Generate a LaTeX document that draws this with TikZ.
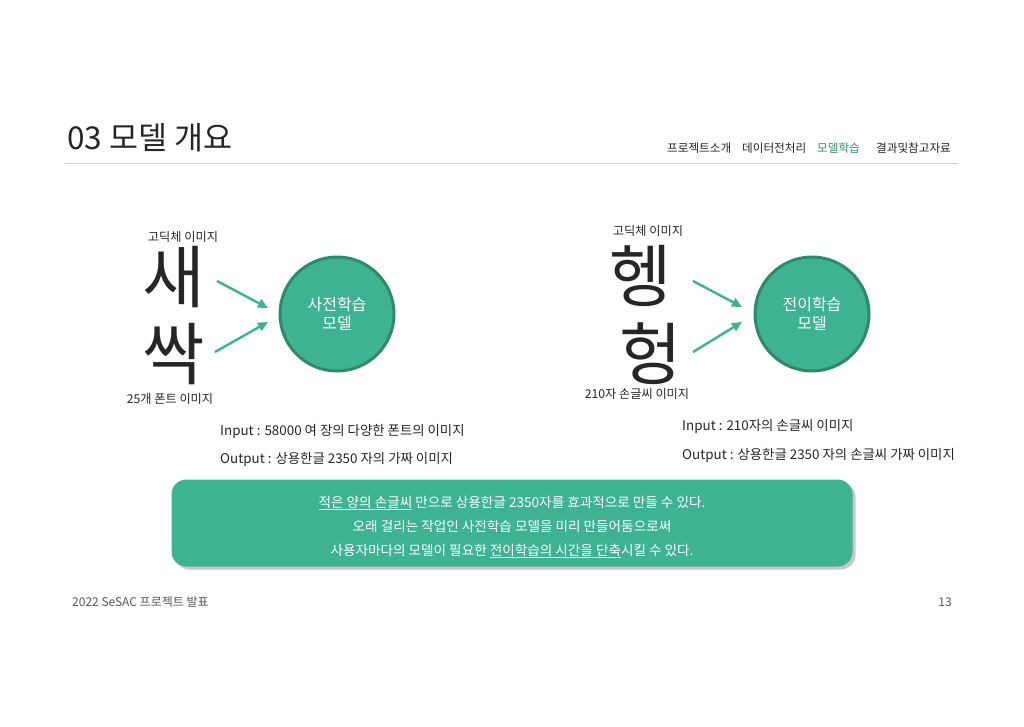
\documentclass[tikz,border=0pt]{standalone}
\usepackage{fontspec}
\setmainfont{Noto Sans CJK KR}
\usetikzlibrary{shadows,arrows.meta}
\definecolor{tealg}{HTML}{3DB391}
\definecolor{tealdk}{HTML}{2E8A68}
\definecolor{navg}{HTML}{2F8F6A}
\definecolor{arrg}{HTML}{3DB48E}
\definecolor{ink}{HTML}{262626}
\newcommand{\fs}[1]{\fontsize{#1}{#1}\selectfont}
\begin{document}
\begin{tikzpicture}[x=1pt,y=-1pt,
  txt/.style={inner sep=0pt, text=ink},
  nav/.style={txt, anchor=west, font=\fs{11.6}},
  lbl/.style={txt, font=\fs{12.2}},
  big/.style={txt, font=\fs{68}},
  io/.style={txt, anchor=west, font=\fs{13.4}},
  model/.style={circle, minimum size=114pt, fill=tealg, draw=tealdk, line width=3pt,
    text=white, font=\fs{16}, align=center, inner sep=0pt},
  arr/.style={draw=arrg, line width=2.4pt, -{Triangle[length=10pt,width=9pt]}},
  notebox/.style={rounded corners=15pt, fill=tealg, minimum width=681pt, minimum height=87pt,
    drop shadow={shadow xshift=3pt, shadow yshift=-3pt, opacity=0.4, fill=black!55}},
  notetext/.style={inner sep=0pt, text=white, font=\fs{13.6}, align=center},
]
\useasboundingbox[fill=white] (0,0) rectangle (1024,726);

% title and header
\node[txt, anchor=west, font=\fs{31.5}] (title) at (67,138) {03 모델 개요};
\coordinate (ruleL) at (65,163);
\coordinate (ruleR) at (958,163);
\draw[black!18, line width=1pt] (ruleL) -- (ruleR);
\node[nav] (nav1) at (667,148) {프로젝트소개};
\node[nav] (nav2) at (742,148) {데이터전처리};
\node[nav, text=navg] (nav3) at (817,148) {모델학습};
\node[nav] (nav4) at (876,148) {결과및참고자료};

% left group
\node[lbl] (lab1) at (183,237) {고딕체 이미지};
\node[big] (sae) at (174,277) {새};
\node[big] (ssak) at (174,354) {싹};
\node[lbl] (lab2) at (170,399) {25개 폰트 이미지};
\node[model] (m1) at (337,314) {사전학습\\[3pt]모델};
\coordinate (a1s) at (217,281);
\coordinate (a1e) at (268,308);
\coordinate (a2s) at (215,352);
\coordinate (a2e) at (268,322);
\draw[arr] (a1s) -- (a1e);
\draw[arr] (a2s) -- (a2e);

% right group
\node[lbl] (lab3) at (648,231) {고딕체 이미지};
\node[big] (heng) at (641,276) {헹};
\node[big] (heong) at (651,354) {헝};
\node[lbl] (lab4) at (637,394) {210자 손글씨 이미지};
\node[model] (m2) at (812,314) {전이학습\\[3pt]모델};
\coordinate (b1s) at (693,281);
\coordinate (b1e) at (742,307);
\coordinate (b2s) at (693,352);
\coordinate (b2e) at (742,322);
\draw[arr] (b1s) -- (b1e);
\draw[arr] (b2s) -- (b2e);

% input / output
\node[io] (in1) at (220,431) {Input : 58000 여 장의 다양한 폰트의 이미지};
\node[io] (out1) at (220,459) {Output : 상용한글 2350 자의 가짜 이미지};
\node[io] (in2) at (682,426) {Input : 210자의 손글씨 이미지};
\node[io] (out2) at (682,455) {Output : 상용한글 2350 자의 손글씨 가짜 이미지};

% summary box
\node[notebox] (note) at (512,523) {};
\node[notetext] (notetxt) at ([yshift=-4pt]note.center) {%
  \underline{적은 양의 손글씨} 만으로 상용한글 2350자를 효과적으로 만들 수 있다.\\[9.5pt]
  오래 걸리는 작업인 사전학습 모델을 미리 만들어둠으로써\\[9.5pt]
  사용자마다의 모델이 필요한 \underline{전이학습의 시간을 단축}시킬 수 있다.};

% footer
\node[txt, anchor=west, text=black!65, font=\fs{12}] (foot) at (72,602) {2022 SeSAC 프로젝트 발표};
\node[txt, anchor=east, text=black!65, font=\fs{12}] (page) at (952,602) {13};
\end{tikzpicture}
\end{document}
